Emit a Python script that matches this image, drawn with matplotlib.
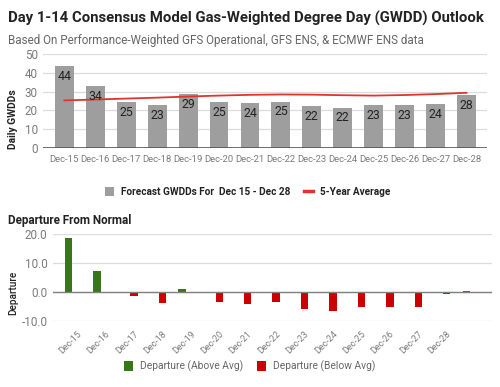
import matplotlib
matplotlib.use("Agg")
import matplotlib.pyplot as plt
import numpy as np
from matplotlib.patches import Patch
from matplotlib.lines import Line2D
import matplotlib.transforms as mtransforms

plt.rcParams['font.family'] = ['Roboto', 'DejaVu Sans']

dates = ["Dec-15", "Dec-16", "Dec-17", "Dec-18", "Dec-19", "Dec-20", "Dec-21",
         "Dec-22", "Dec-23", "Dec-24", "Dec-25", "Dec-26", "Dec-27", "Dec-28"]
forecast = [43.8, 33.2, 24.4, 22.6, 28.8, 24.6, 23.9, 24.7, 22.1, 21.5, 22.6, 23.0, 23.5, 28.3]
forecast_labels = ["44", "34", "25", "23", "29", "25", "24", "25", "22", "22", "23", "23", "24", "28"]
avg5 = [25.3, 25.8, 26.3, 26.8, 27.4, 27.9, 28.3, 28.5, 28.4, 28.1, 27.9, 28.2, 28.7, 29.4]

dep_dates = dates + [""]
dep_above = [18.7, 7.4, 0, 0, 1.2, 0, 0, 0, 0, 0, 0, 0, 0, 0, 0.25]
dep_below = [0, 0, -1.5, -3.8, 0, -3.3, -4.0, -3.5, -5.9, -6.5, -5.0, -5.0, -5.0, -0.6, 0]

BAR_GRAY = "#9e9e9e"
RED_LINE = "#e0342c"
GREEN = "#38761d"
RED = "#cc0000"
GRID = "#dcdcdc"
TICK = "#7a7a7a"
DARK = "#222222"

fig = plt.figure(figsize=(5.0, 3.87), dpi=100)
renderer = fig.canvas.get_renderer()


def fit_text(t, target_px):
    bb = t.get_window_extent(renderer=renderer)
    t.set_fontsize(t.get_fontsize() * target_px / bb.width)


title = fig.text(0.016, 0.953, "Day 1-14 Consensus Model Gas-Weighted Degree Day (GWDD) Outlook",
                 fontsize=11.0, fontweight='bold', color=DARK, va='center', ha='left')
fit_text(title, 474)
sub = fig.text(0.016, 0.896, "Based On Performance-Weighted GFS Operational, GFS ENS, & ECMWF ENS data",
               fontsize=8.4, color="#666666", va='center', ha='left')
fit_text(sub, 414)

# Top chart
ax1 = fig.add_axes([0.0866, 0.6183, 0.888, 0.2414])
x = np.arange(len(dates))
ax1.bar(x, forecast, width=0.61, color=BAR_GRAY, zorder=2)
ax1.plot(x, avg5, color=RED_LINE, lw=1.3, zorder=3)
for xi, v, lab in zip(x, forecast, forecast_labels):
    ax1.annotate(lab, (xi, v), xytext=(0, -7.5), textcoords='offset points',
                 ha='center', va='center', fontsize=8.8, color=DARK, zorder=4)
ax1.set_xlim(-0.68, 13.67)
ax1.set_ylim(0, 50)
ax1.set_yticks([0, 10, 20, 30, 40, 50])
ax1.set_xticks(x)
ax1.set_xticklabels(dates)
ax1.tick_params(axis='x', length=0, pad=5, labelsize=6.8, labelcolor=TICK)
ax1.tick_params(axis='y', length=0, pad=4, labelsize=8.4, labelcolor=TICK)
ax1.grid(axis='y', color=GRID, lw=0.9, zorder=0)
ax1.axhline(0, color="#555555", lw=1.2, zorder=3)
for s in ax1.spines.values():
    s.set_visible(False)
ax1.set_ylabel("Daily GWDDs", fontsize=7.4, fontweight='bold', color=DARK)
ax1.yaxis.set_label_coords(-0.058, 0.307)

# Legend 1
h1 = [Patch(facecolor=BAR_GRAY, edgecolor='none'),
      Line2D([0], [0], color=RED_LINE, lw=2.5)]
fig.legend(h1, ["Forecast GWDDs For  Dec 15 - Dec 28", "5-Year Average"],
           loc='center', bbox_to_anchor=(0.495, 0.5047), ncol=2, frameon=False,
           prop={'size': 7.2, 'weight': 'bold'}, handlelength=0.9, handleheight=1.1,
           columnspacing=1.3, handletextpad=0.7, labelcolor=DARK)

dfn = fig.text(0.016, 0.429, "Departure From Normal", fontsize=9.0, fontweight='bold',
               color=DARK, va='center', ha='left')
fit_text(dfn, 123)

# Bottom chart
ax2 = fig.add_axes([0.106, 0.1705, 0.8774, 0.2248])
x2 = np.arange(len(dep_dates))
w = 0.26
off = 0.155
ax2.bar(x2 - off, dep_above, width=w, color=GREEN, zorder=2)
ax2.bar(x2 + off, dep_below, width=w, color=RED, zorder=2)
ax2.set_xlim(-0.7, 14.74)
ax2.set_ylim(-10, 20)
ax2.set_yticks([-10, 0, 10, 20])
ax2.set_yticklabels(["-10.0", "0.0", "10.0", "20.0"])
ax2.set_xticks(x2)
ax2.set_xticklabels(dep_dates, rotation=45, ha='right', rotation_mode='anchor')
ax2.tick_params(axis='x', length=0, pad=6, labelsize=6.5, labelcolor=TICK)
ax2.tick_params(axis='y', length=0, pad=4, labelsize=8.4, labelcolor=TICK)
shift = mtransforms.ScaledTranslation(4 / 100, 0, fig.dpi_scale_trans)
for lab in ax2.get_xticklabels():
    lab.set_transform(lab.get_transform() + shift)
ax2.grid(axis='y', color=GRID, lw=0.9, zorder=0)
ax2.axhline(0, color="#808080", lw=1.0, zorder=3)
for s in ax2.spines.values():
    s.set_visible(False)
ax2.set_ylabel("Departure", fontsize=7.2, fontweight='medium', color=DARK)
ax2.yaxis.set_label_coords(-0.079, 0.32)

h2 = [Patch(facecolor=GREEN, edgecolor='none'), Patch(facecolor=RED, edgecolor='none')]
fig.legend(h2, ["Departure (Above Avg)", "Departure (Below Avg)"],
           loc='center', bbox_to_anchor=(0.499, 0.0525), ncol=2, frameon=False,
           prop={'size': 7.4}, handlelength=0.9, handleheight=1.1,
           columnspacing=1.3, handletextpad=0.7, labelcolor="#666666")

fig.savefig("out.png", dpi=100)
